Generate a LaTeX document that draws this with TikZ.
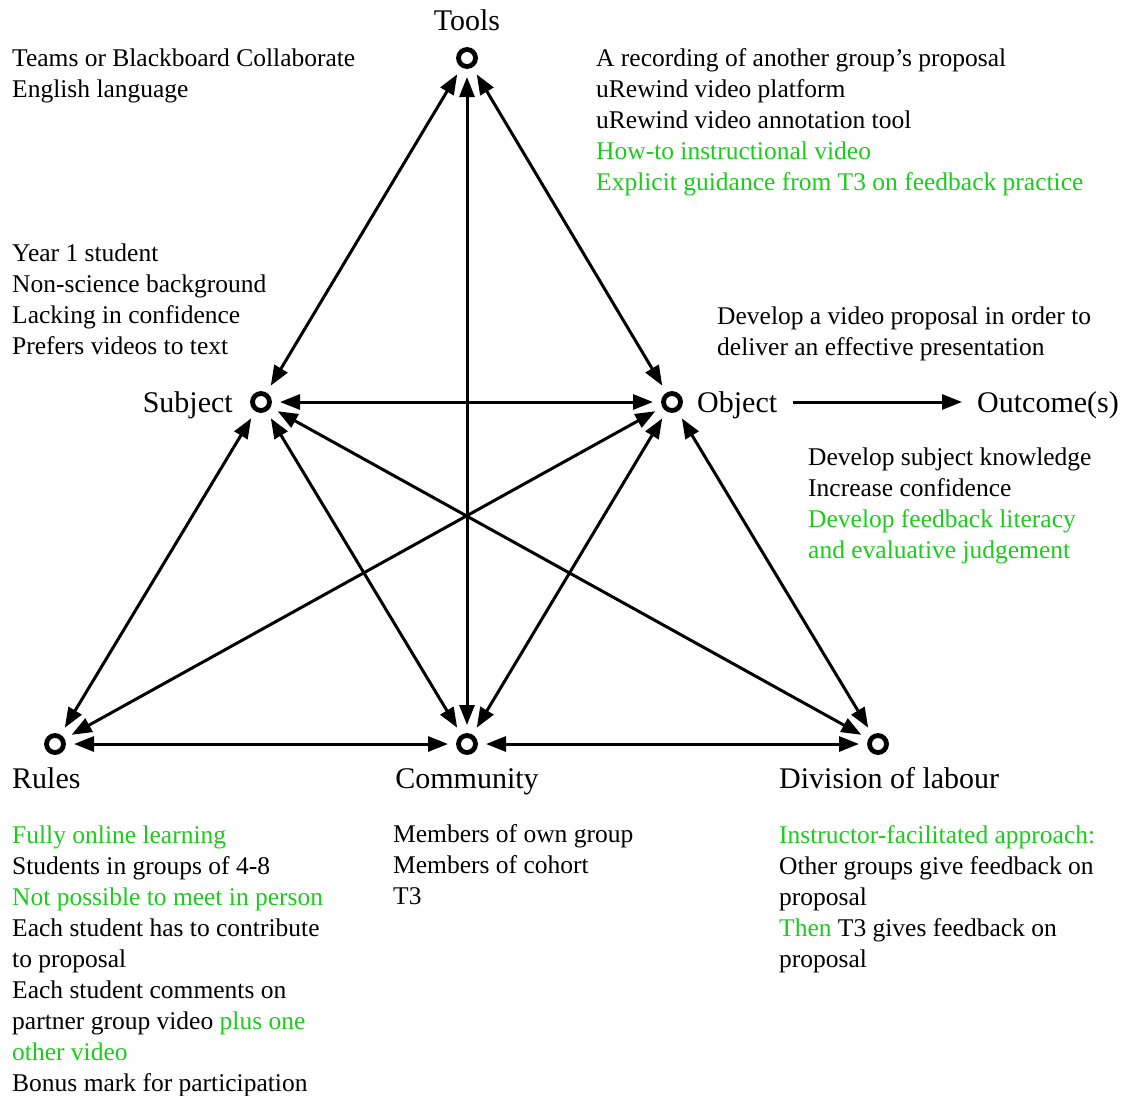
\documentclass[tikz,border=0pt]{standalone}
\usepackage{fontspec}
\setmainfont{Liberation Serif}
\usetikzlibrary{arrows.meta}
\definecolor{grn}{RGB}{28,204,28}
% left-aligned block whose baseline is that of its first line
\newcommand{\lines}[1]{\begin{tabular}[t]{@{}l@{}}#1\end{tabular}}
\begin{document}
\begin{tikzpicture}[x=1pt,y=-1pt,
  vertex/.style={circle,draw,line width=4.8pt,minimum size=17pt,inner sep=0pt,outer sep=10.5pt},
  link/.style={line width=3pt,{Triangle[length=20pt,width=15pt]}-{Triangle[length=20pt,width=15pt]}},
  oneway/.style={line width=3pt,-{Triangle[length=20pt,width=15pt]}},
  label/.style={font=\fontsize{30}{34}\selectfont,inner sep=0pt},
  note/.style={font=\fontsize{25.5}{31}\selectfont,anchor=base west,inner sep=0pt}]
\useasboundingbox (0,0) rectangle (1132,1095);

% activity system vertices
\node[vertex] (tools) at (467,58) {};
\node[vertex] (subj) at (261,402) {};
\node[vertex] (obj) at (672,402) {};
\node[vertex] (rules) at (55,744) {};
\node[vertex] (comm) at (467,744) {};
\node[vertex] (div) at (878,744) {};

% vertex labels
\node[label,anchor=base] (toolsL) at (467,30) {Tools};
\node[label,anchor=base east] (subjL) at (233,412) {Subject};
\node[label,anchor=base west] (objL) at (697,412) {Object};
\node[label,anchor=base west] (outL) at (977,412) {Outcome(s)};
\node[label,anchor=base west] (rulesL) at (12,788) {Rules};
\node[label,anchor=base] (commL) at (467,788) {Community};
\node[label,anchor=base west] (divL) at (779,788) {Division of labour};

% connectors
\draw[link] (tools) -- (subj);
\draw[link] (tools) -- (obj);
\draw[link] (tools) -- (comm);
\draw[link] (subj) -- (obj);
\draw[link] (subj) -- (rules);
\draw[link] (subj) -- (comm);
\draw[link] (subj) -- (div);
\draw[link] (obj) -- (rules);
\draw[link] (obj) -- (comm);
\draw[link] (obj) -- (div);
\draw[link] (rules) -- (comm);
\draw[link] (comm) -- (div);
\draw[oneway,shorten <=16pt,shorten >=15pt] (objL.east |- obj) -- (outL.west |- obj);

% annotations
\node[note] (toolsA) at (12,66) {\lines{Teams or Blackboard Collaborate\\English language}};
\node[note] (toolsB) at (596,66) {\lines{A recording of another group’s proposal\\uRewind video platform\\uRewind video annotation tool\\\textcolor{grn}{How-to instructional video}\\\textcolor{grn}{Explicit guidance from T3 on feedback practice}}};
\node[note] (subjA) at (12,261) {\lines{Year 1 student\\Non-science background\\Lacking in confidence\\Prefers videos to text}};
\node[note] (objA) at (717,324) {\lines{Develop a video proposal in order to\\deliver an effective presentation}};
\node[note] (outA) at (808,465) {\lines{Develop subject knowledge\\Increase confidence\\\textcolor{grn}{Develop feedback literacy}\\\textcolor{grn}{and evaluative judgement}}};
\node[note] (rulesA) at (12,843) {\lines{\textcolor{grn}{Fully online learning}\\Students in groups of 4-8\\\textcolor{grn}{Not possible to meet in person}\\Each student has to contribute\\to proposal\\Each student comments on\\partner group video \textcolor{grn}{plus one}\\\textcolor{grn}{other video}\\Bonus mark for participation}};
\node[note] (commA) at (393,842) {\lines{Members of own group\\Members of cohort\\T3}};
\node[note] (divA) at (779,843) {\lines{\textcolor{grn}{Instructor-facilitated approach:}\\Other groups give feedback on\\proposal\\\textcolor{grn}{Then} T3 gives feedback on\\proposal}};
\end{tikzpicture}
\end{document}
